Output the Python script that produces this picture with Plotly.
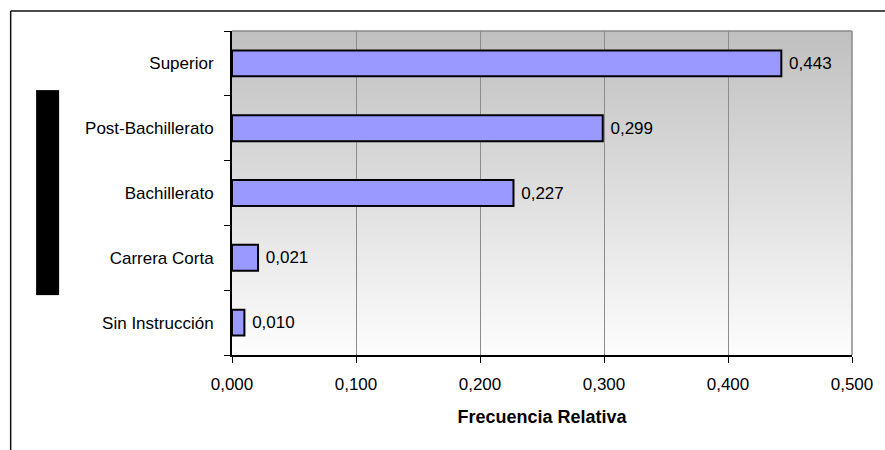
import plotly.graph_objects as go

# data (bottom to top)
niveles = ["Sin Instrucción", "Carrera Corta", "Bachillerato", "Post-Bachillerato", "Superior"]
frecuencia = [0.010, 0.021, 0.227, 0.299, 0.443]
ticks_x = [0, 0.1, 0.2, 0.3, 0.4, 0.5]

fig = go.Figure()
fig.add_trace(go.Bar(
    x=frecuencia,
    y=niveles,
    orientation="h",
    width=0.4,
    marker=dict(color="#9999FF", line=dict(color="black", width=2)),
    texttemplate="\u00a0%{x:.3f}",
    textposition="outside",
    textfont=dict(family="Liberation Sans, Arial", size=17, color="black"),
    cliponaxis=False,
    hoverinfo="skip",
))

# grey vertical gradient for the plot area (Excel style)
shapes = []
n = 108
for i in range(n):
    g = int(192 + (253 - 192) * (i / (n - 1)))
    shapes.append(dict(
        type="rect", xref="x domain", yref="y domain",
        x0=0, x1=1, y0=1 - (i + 1) / n, y1=1 - i / n,
        fillcolor="rgb(%d,%d,%d)" % (g, g, g), line=dict(width=0), layer="below"))

# plot area border (top and right) in grey
shapes.append(dict(type="line", xref="x domain", yref="y domain", x0=0, x1=1, y0=1, y1=1,
                   line=dict(color="#8a8a8a", width=1.5)))
shapes.append(dict(type="line", xref="x domain", yref="y domain", x0=1, x1=1, y0=0, y1=1,
                   line=dict(color="#8a8a8a", width=1.5)))
# outer chart frame (top and left edges)
shapes.append(dict(type="line", xref="paper", yref="paper", x0=-0.357, x1=1.1, y0=1.062, y1=1.062,
                   line=dict(color="#111111", width=1.5)))
shapes.append(dict(type="line", xref="paper", yref="paper", x0=-0.357, x1=-0.357, y0=1.062, y1=-0.35,
                   line=dict(color="#111111", width=1.5)))

fig.update_layout(
    width=885, height=450,
    margin=dict(l=232, r=31, t=31, b=95),
    paper_bgcolor="white",
    plot_bgcolor="white",
    separators=",.",
    showlegend=False,
    shapes=shapes,
    font=dict(family="Liberation Sans, Arial", size=17, color="black"),
    annotations=[dict(
        text="Nivel de Instrucción", textangle=-90,
        xref="paper", yref="paper", x=-0.2974, y=0.5,
        xanchor="center", yanchor="middle",
        width=204, height=22, bgcolor="black", borderpad=0,
        font=dict(size=14, color="black"), showarrow=False)],
)

fig.update_xaxes(
    range=[0, 0.5],
    tickvals=ticks_x,
    tickformat=".3f",
    showgrid=True, gridcolor="#8c8c8c", gridwidth=1,
    showline=True, linecolor="black", linewidth=2,
    ticks="outside", ticklen=6, tickcolor="black", tickwidth=1,
    ticklabelstandoff=7,
    zeroline=False,
    tickfont=dict(size=17),
    title=dict(text="<b>Frecuencia Relativa</b>", font=dict(size=18), standoff=17),
)
fig.update_yaxes(
    range=[-0.5, 4.5],
    categoryorder="array", categoryarray=niveles,
    showgrid=False,
    showline=True, linecolor="black", linewidth=2,
    ticks="outside", tickson="boundaries", ticklen=6, tickcolor="black", tickwidth=1,
    ticklabelstandoff=13,
    tickfont=dict(size=17),
)

# page body has an 8px default margin; drop it so the chart sits at the window origin
fig.write_html("out.html", config={"displayModeBar": False},
               post_script="document.body.style.margin='0';")
